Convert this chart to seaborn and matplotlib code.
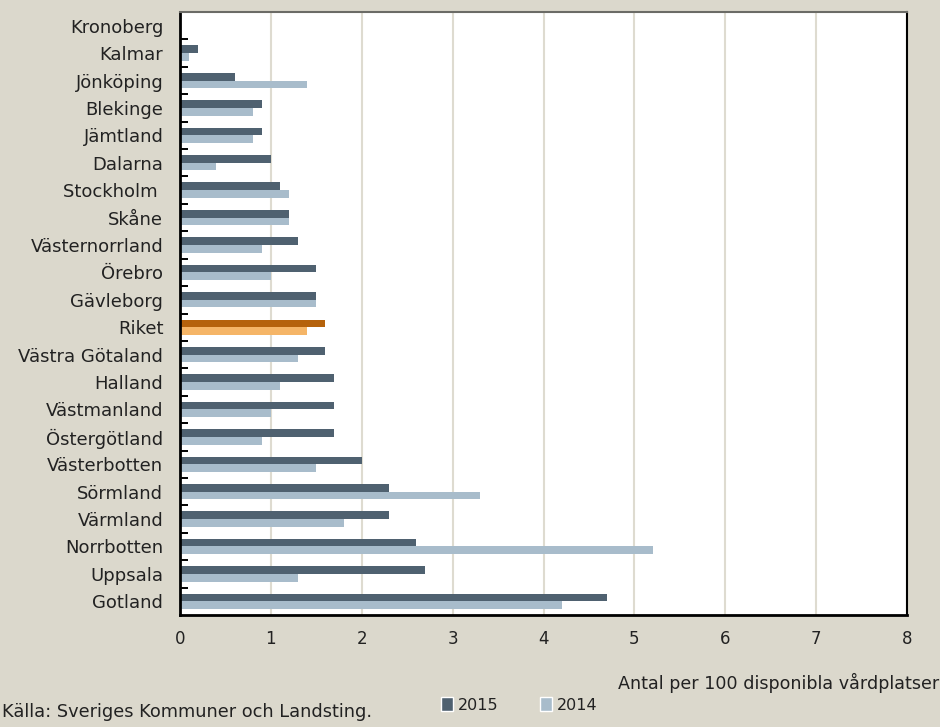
import matplotlib
matplotlib.use("Agg")
import matplotlib.pyplot as plt
from matplotlib.patches import Patch
import numpy as np
import pandas as pd
import seaborn as sns

# Regions, ordered top to bottom
regions = ["Kronoberg", "Kalmar", "Jönköping", "Blekinge", "Jämtland", "Dalarna",
           "Stockholm ", "Skåne", "Västernorrland", "Örebro", "Gävleborg", "Riket",
           "Västra Götaland", "Halland", "Västmanland", "Östergötland", "Västerbotten",
           "Sörmland", "Värmland", "Norrbotten", "Uppsala", "Gotland"]
values_2015 = [0.0, 0.2, 0.6, 0.9, 0.9, 1.0, 1.1, 1.2, 1.3, 1.5, 1.5, 1.6,
               1.6, 1.7, 1.7, 1.7, 2.0, 2.3, 2.3, 2.6, 2.7, 4.7]
values_2014 = [0.0, 0.1, 1.4, 0.8, 0.8, 0.4, 1.2, 1.2, 0.9, 1.0, 1.5, 1.4,
               1.3, 1.1, 1.0, 0.9, 1.5, 3.3, 1.8, 5.2, 1.3, 4.2]
years = ["2015", "2014"]
x_ticks = [0, 1, 2, 3, 4, 5, 6, 7, 8]
highlight = "Riket"

x_label = "Antal per 100 disponibla vårdplatser"
source = "Källa: Sveriges Kommuner och Landsting."

bg = "#dbd8cc"
dark = "#4f6170"
light = "#a8bccb"
hl_dark = "#b5620c"
hl_light = "#f5b567"
text_col = "#222222"

n = len(regions)
df = pd.DataFrame({
    "region": regions * 2,
    "year": [years[0]] * n + [years[1]] * n,
    "value": values_2015 + values_2014,
})

sns.set_theme(style="white")
plt.rcParams["font.family"] = ["DejaVu Sans"]

fig = plt.figure(figsize=(9.4, 7.27), dpi=100, facecolor=bg)
ax = fig.add_axes([180 / 940, 1 - 615 / 727, 727 / 940, 603 / 727])
ax.set_facecolor("white")

sns.barplot(data=df, y="region", x="value", hue="year", hue_order=years,
            order=regions, palette={years[0]: dark, years[1]: light},
            orient="h", width=0.56, gap=0, saturation=1, legend=False,
            linewidth=0, ax=ax)

# National average in orange
idx = regions.index(highlight)
for cont, col in zip(ax.containers, [hl_dark, hl_light]):
    cont.patches[idx].set_facecolor(col)

ax.set_xlim(0, 8)
ax.set_ylim(n - 0.5, -0.5)
ax.set_xticks(x_ticks)
ax.set_xticklabels([str(t) for t in x_ticks], fontsize=12, color=text_col)
ax.tick_params(axis="x", length=0, pad=11)
ax.tick_params(axis="y", which="major", length=0, pad=12, labelsize=13,
               labelcolor=text_col)
ax.set_yticks(np.arange(0.5, n - 0.5), minor=True)
ax.tick_params(axis="y", which="minor", direction="in", length=6, width=1.4,
               color="black", left=True)
ax.set_xlabel("")
ax.set_ylabel("")

ax.grid(axis="x", color="#dedbd0", linewidth=1.5)
ax.set_axisbelow(True)

for side, col, lw in [("left", "black", 2), ("bottom", "black", 2),
                      ("top", "#6b6b66", 1.5), ("right", "black", 1.5)]:
    ax.spines[side].set_visible(True)
    ax.spines[side].set_color(col)
    ax.spines[side].set_linewidth(lw)

fig.text(939 / 940, 1 - 683 / 727, x_label, ha="right", va="center",
         fontsize=12.6, color=text_col)
fig.text(2 / 940, 1 - 712 / 727, source, ha="left", va="center",
         fontsize=12.8, color=text_col)

handles = [Patch(facecolor=dark, label=years[0]),
           Patch(facecolor=light, label=years[1])]
fig.legend(handles=handles, loc="center", bbox_to_anchor=(519 / 940, 1 - 705 / 727),
           ncol=2, frameon=False, fontsize=11.5, handlelength=0.75,
           handleheight=0.9, handletextpad=0.3, columnspacing=2.6,
           labelcolor=text_col)

fig.savefig("out.png", dpi=100, facecolor=bg)
